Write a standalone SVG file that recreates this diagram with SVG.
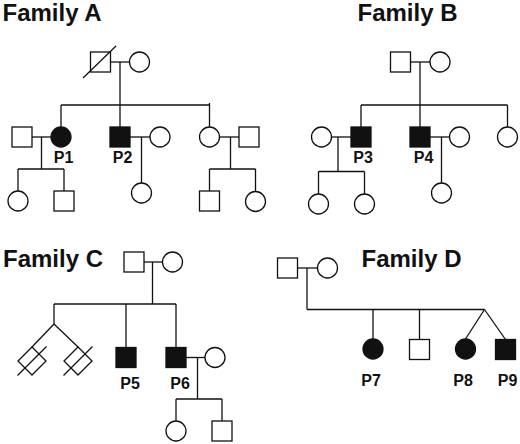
<svg xmlns="http://www.w3.org/2000/svg" width="520" height="444" viewBox="0 0 520 444">
<style>
.t{font-family:"Liberation Sans",Arial,sans-serif;font-weight:bold;font-size:24px;fill:#111}
.l{font-family:"Liberation Sans",Arial,sans-serif;font-weight:bold;font-size:16px;fill:#111;text-anchor:middle}
.o{fill:#fff;stroke:#111;stroke-width:1.3}
.f{fill:#111;stroke:#111;stroke-width:1.3}
.c line,.c polyline{stroke:#111;stroke-width:1.3;fill:none}
.s{stroke:#111;stroke-width:1.3;fill:none}
</style>
<rect width="520" height="444" fill="#fff"/>
<text class="t" x="2.5" y="21">Family A</text>
<text class="t" x="357.5" y="21">Family B</text>
<text class="t" x="3" y="266.5">Family C</text>
<text class="t" x="361.5" y="266.5">Family D</text>
<g class="c" id="connectors">
<!-- Family A -->
<line x1="110.5" y1="62" x2="129.5" y2="62"/>
<line x1="120" y1="62" x2="120" y2="105"/>
<line x1="61" y1="105" x2="209.5" y2="105"/>
<line x1="61" y1="105" x2="61" y2="127"/>
<line x1="120" y1="105" x2="120" y2="127"/>
<line x1="209.5" y1="103" x2="209.5" y2="127"/>
<line x1="32" y1="137" x2="51" y2="137"/>
<line x1="41.5" y1="137" x2="41.5" y2="169"/>
<line x1="18" y1="169" x2="64" y2="169"/>
<line x1="18" y1="169" x2="18" y2="191"/>
<line x1="64" y1="169" x2="64" y2="191"/>
<line x1="130" y1="137" x2="150" y2="137"/>
<line x1="141.5" y1="137" x2="141.5" y2="183"/>
<line x1="219.5" y1="137" x2="239" y2="137"/>
<line x1="230.5" y1="137" x2="230.5" y2="169"/>
<line x1="209.5" y1="169" x2="255.5" y2="169"/>
<line x1="209.5" y1="169" x2="209.5" y2="191"/>
<line x1="255.5" y1="169" x2="255.5" y2="191.5"/>
<!-- Family B -->
<line x1="410.5" y1="62" x2="430" y2="62"/>
<line x1="420" y1="62" x2="420" y2="105"/>
<line x1="361" y1="105" x2="507.5" y2="105"/>
<line x1="361" y1="105" x2="361" y2="127"/>
<line x1="420" y1="105" x2="420" y2="127"/>
<line x1="507.5" y1="105" x2="507.5" y2="127"/>
<line x1="331.5" y1="137" x2="351" y2="137"/>
<line x1="338" y1="137" x2="338" y2="171.5"/>
<line x1="318.5" y1="171.5" x2="364.5" y2="171.5"/>
<line x1="318.5" y1="171.5" x2="318.5" y2="194"/>
<line x1="364.5" y1="171.5" x2="364.5" y2="194"/>
<line x1="430" y1="137" x2="449.5" y2="137"/>
<line x1="441.5" y1="137" x2="441.5" y2="183"/>
<!-- Family C -->
<line x1="144" y1="262" x2="162.5" y2="262"/>
<line x1="152.5" y1="262" x2="152.5" y2="304"/>
<line x1="54" y1="304" x2="176" y2="304"/>
<line x1="54" y1="304" x2="54" y2="324"/>
<line x1="54" y1="324" x2="32" y2="347"/>
<line x1="54" y1="324" x2="78" y2="347"/>
<line x1="126" y1="304" x2="126" y2="347.5"/>
<line x1="176" y1="304" x2="176" y2="347.5"/>
<line x1="186" y1="357.5" x2="205" y2="357.5"/>
<line x1="197.5" y1="357.5" x2="197.5" y2="399"/>
<line x1="176" y1="399" x2="222" y2="399"/>
<line x1="176" y1="399" x2="176" y2="421"/>
<line x1="222" y1="399" x2="222" y2="421"/>
<!-- Family D -->
<line x1="297.5" y1="268" x2="317.5" y2="268"/>
<line x1="307" y1="268" x2="307" y2="309.5"/>
<line x1="307" y1="309.5" x2="484.5" y2="309.5"/>
<line x1="373" y1="309.5" x2="373" y2="339"/>
<line x1="419.5" y1="309.5" x2="419.5" y2="339.5"/>
<line x1="484.5" y1="309.5" x2="465.5" y2="339"/>
<line x1="484.5" y1="309.5" x2="505.5" y2="339.5"/>
</g>
<!-- Family A nodes -->
<g id="A-father"><rect class="o" x="90.5" y="52" width="20" height="20"/><line class="s" x1="83" y1="78" x2="116" y2="46"/></g>
<g id="A-mother"><circle class="o" cx="139.5" cy="62" r="10"/></g>
<g id="A-P1-spouse"><rect class="o" x="12" y="127" width="20" height="20"/></g>
<g id="A-P1"><circle class="f" cx="61" cy="137" r="10"/><text class="l" x="63.5" y="163">P1</text></g>
<g id="A-P1-child1"><circle class="o" cx="18" cy="201" r="10"/></g>
<g id="A-P1-child2"><rect class="o" x="54" y="191" width="20" height="20"/></g>
<g id="A-P2"><rect class="f" x="110" y="127" width="20" height="20"/><text class="l" x="122.5" y="163">P2</text></g>
<g id="A-P2-spouse"><circle class="o" cx="160" cy="137" r="10"/></g>
<g id="A-P2-child"><circle class="o" cx="141.5" cy="193" r="10"/></g>
<g id="A-sister"><circle class="o" cx="209.5" cy="137" r="10"/></g>
<g id="A-sister-spouse"><rect class="o" x="239" y="127" width="20" height="20"/></g>
<g id="A-sister-child1"><rect class="o" x="199.5" y="191" width="20" height="20"/></g>
<g id="A-sister-child2"><circle class="o" cx="255.5" cy="201.5" r="10"/></g>
<!-- Family B nodes -->
<g id="B-father"><rect class="o" x="390.5" y="52" width="20" height="20"/></g>
<g id="B-mother"><circle class="o" cx="440" cy="62" r="10"/></g>
<g id="B-P3-spouse"><circle class="o" cx="321.5" cy="137" r="10"/></g>
<g id="B-P3"><rect class="f" x="351" y="127" width="20" height="20"/><text class="l" x="363" y="163">P3</text></g>
<g id="B-P3-child1"><circle class="o" cx="318.5" cy="204" r="10"/></g>
<g id="B-P3-child2"><circle class="o" cx="364.5" cy="204" r="10"/></g>
<g id="B-P4"><rect class="f" x="410" y="127" width="20" height="20"/><text class="l" x="423.5" y="163">P4</text></g>
<g id="B-P4-spouse"><circle class="o" cx="459.5" cy="137" r="10"/></g>
<g id="B-P4-child"><circle class="o" cx="441.5" cy="193" r="10"/></g>
<g id="B-sister"><circle class="o" cx="507.5" cy="137" r="10"/></g>
<!-- Family C nodes -->
<g id="C-father"><rect class="o" x="124" y="252" width="20" height="20"/></g>
<g id="C-mother"><circle class="o" cx="172.5" cy="262" r="10"/></g>
<g id="C-twin1"><polygon class="o" points="32,347 46,361 32,375 18,361"/><line class="s" x1="17.5" y1="375.5" x2="46.5" y2="346.5"/></g>
<g id="C-twin2"><polygon class="o" points="78,347 92,361 78,375 64,361"/><line class="s" x1="63.5" y1="375.5" x2="92.5" y2="346.5"/></g>
<g id="C-P5"><rect class="f" x="116" y="347.5" width="20" height="20"/><text class="l" x="130" y="389">P5</text></g>
<g id="C-P6"><rect class="f" x="166" y="347.5" width="20" height="20"/><text class="l" x="180" y="389">P6</text></g>
<g id="C-P6-spouse"><circle class="o" cx="215" cy="357.5" r="10"/></g>
<g id="C-P6-child1"><circle class="o" cx="176" cy="431" r="10"/></g>
<g id="C-P6-child2"><rect class="o" x="212" y="421" width="20" height="20"/></g>
<!-- Family D nodes -->
<g id="D-father"><rect class="o" x="277.5" y="258" width="20" height="20"/></g>
<g id="D-mother"><circle class="o" cx="327.5" cy="268" r="10"/></g>
<g id="D-P7"><circle class="f" cx="373" cy="349" r="10"/><text class="l" x="371" y="386">P7</text></g>
<g id="D-brother"><rect class="o" x="409.5" y="339.5" width="20" height="20"/></g>
<g id="D-P8"><circle class="f" cx="465.5" cy="349" r="10"/><text class="l" x="463" y="386">P8</text></g>
<g id="D-P9"><rect class="f" x="495.5" y="339.5" width="20" height="20"/><text class="l" x="507.5" y="386">P9</text></g>
</svg>
